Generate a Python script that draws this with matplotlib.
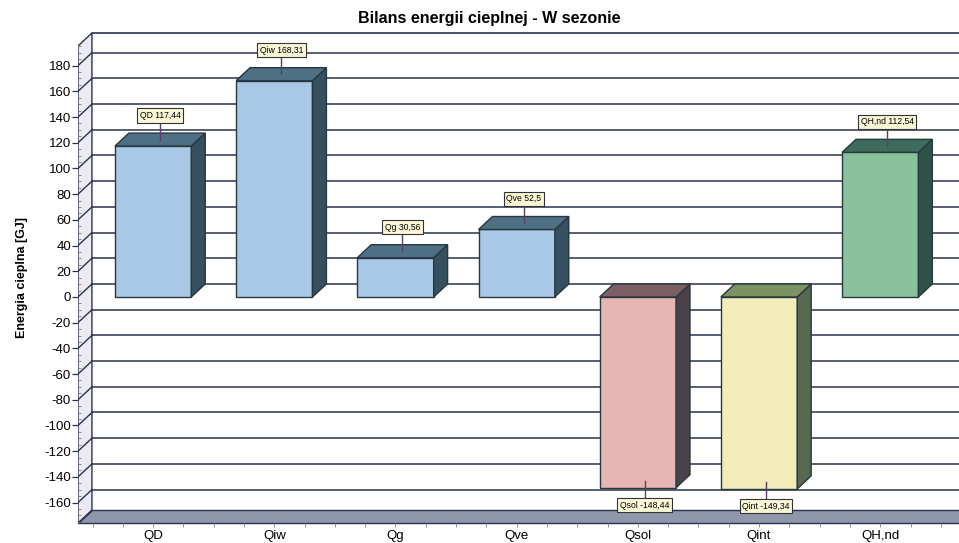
import numpy as np
import matplotlib.pyplot as plt
from matplotlib.patches import Polygon

plt.rcParams['font.family'] = ['Liberation Sans', 'DejaVu Sans']
plt.rcParams['axes.unicode_minus'] = False

categories = ["QD", "Qiw", "Qg", "Qve", "Qsol", "Qint", "QH,nd"]
values = [117.44, 168.31, 30.56, 52.5, -148.44, -149.34, 112.54]
y_ticks = list(range(-160, 181, 20))

# front / top / side colours for each bar
front_colors = ["#a9c8e6", "#a9c8e6", "#a9c8e6", "#a9c8e6", "#e7b6b2", "#f2ecb9", "#88c19b"]
top_colors = ["#4f6f84", "#4f6f84", "#4f6f84", "#4f6f84", "#7c5e63", "#7d9262", "#3e6c5c"]
side_colors = ["#36505f", "#36505f", "#36505f", "#36505f", "#4b4149", "#566a50", "#2f5349"]

# pseudo 3D depth (data units)
dx = 0.115
dy = 10.1
x0, x1 = -0.62, 6.65
y0, y1 = -175.9, 205.4
bw = 0.63
line_col = "#2b3150"

fig = plt.figure(figsize=(9.59, 5.43), dpi=100)
ax = fig.add_axes([78 / 959, 20 / 543, (959 - 78) / 959, (523 - 33) / 543])
ax.set_xlim(x0, x1)
ax.set_ylim(y0, y1)
for s in ax.spines.values():
    s.set_visible(False)

# left wall and floor
ax.add_patch(Polygon([(x0, y0), (x0, y1 - dy), (x0 + dx, y1), (x0 + dx, y0 + dy)],
                     closed=True, facecolor="#ecebf3", edgecolor=line_col, lw=1.0, zorder=1))
ax.add_patch(Polygon([(x0, y0), (x1 + 1, y0), (x1 + 1, y0 + dy), (x0 + dx, y0 + dy)],
                     closed=True, facecolor="#8e98aa", edgecolor=line_col, lw=1.0, zorder=1,
                     clip_on=False))
ax.plot([x0 + dx, x1 + 1], [y1, y1], color=line_col, lw=1.2, zorder=1, clip_on=False)
ax.set_xlim(x0, x1)

# gridlines on back wall and left wall
for v in y_ticks:
    ax.plot([x0 + dx, x1], [v + dy, v + dy], color=line_col, lw=1.1, zorder=1)
    ax.plot([x0, x0 + dx], [v, v + dy], color=line_col, lw=1.0, zorder=1)

# bars
for i, (cat, v) in enumerate(zip(categories, values)):
    l, r = i - bw / 2, i + bw / 2
    ax.add_patch(Polygon([(l, 0), (r, 0), (r, v), (l, v)], closed=True,
                         facecolor=front_colors[i], edgecolor="#263840", lw=1.0, zorder=3))
    ax.add_patch(Polygon([(r, 0), (r, v), (r + dx, v + dy), (r + dx, dy)], closed=True,
                         facecolor=side_colors[i], edgecolor="#263840", lw=1.0, zorder=3))
    top = max(v, 0)
    ax.add_patch(Polygon([(l, top), (r, top), (r + dx, top + dy), (l + dx, top + dy)], closed=True,
                         facecolor=top_colors[i], edgecolor="#263840", lw=1.0, zorder=3))

    # value label with leader line
    cx = i + dx / 2
    start = v + dy / 2
    off = 18.7 if v > 0 else -18.7
    ax.plot([cx, cx], [start, start + off * 0.7], color="#5b3d6b", lw=1.0, zorder=4)
    txt = f"{cat} {v:g}".replace(".", ",")
    ax.text(cx, start + off, txt, ha="center", va="center", fontsize=6.2, zorder=5,
            bbox=dict(boxstyle="square,pad=0.3", facecolor="#fbf7d6", edgecolor="#333333", lw=0.8))

# axes ticks
ax.set_yticks(y_ticks)
ax.set_yticks(np.arange(-175, 196, 5), minor=True)
ax.tick_params(axis="y", which="major", direction="out", length=4, width=0.9,
               color=line_col, labelsize=9.5, pad=1)
ax.tick_params(axis="y", which="minor", direction="in", length=2, width=0.6, color="#777777")
ax.set_xticks(range(len(categories)))
ax.set_xticklabels(categories)
ax.set_xticks(np.arange(-0.5, 6.7, 0.25), minor=True)
ax.tick_params(axis="x", which="major", length=3, width=0.6, color="#888888",
               labelsize=9.5, pad=2)
ax.tick_params(axis="x", which="minor", length=3, width=0.6, color="#888888")

ax.set_ylabel("Energia cieplna [GJ]", fontsize=9, fontweight="bold", labelpad=12)
fig.text(489 / 959, 1 - 18 / 543, "Bilans energii cieplnej - W sezonie",
         ha="center", va="center", fontsize=11.5, fontweight="bold")

plt.savefig("out.png", dpi=100)
